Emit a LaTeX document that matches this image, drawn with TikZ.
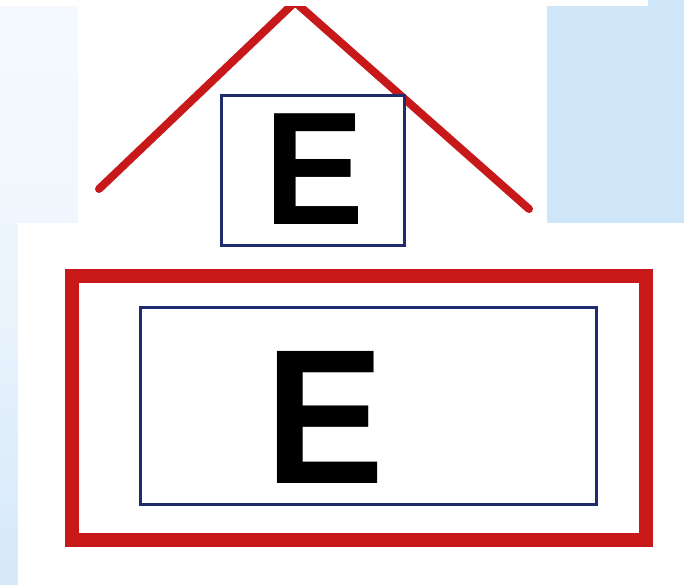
\documentclass[tikz,border=0pt]{standalone}
\usepackage{fontspec}
\setmainfont{Liberation Sans}
\definecolor{roofred}{HTML}{C8191A}
\definecolor{navy}{HTML}{1F2D6E}
\definecolor{paleblue}{HTML}{EEF6FD}
\definecolor{skyblue}{HTML}{CFE5F8}
\begin{document}
\begin{tikzpicture}[x=1pt,y=-1pt,
  redline/.style={draw=roofred,line width=8pt,line cap=round},
  redframe/.style={draw=roofred,line width=14pt,fill=white},
  bluebox/.style={draw=navy,line width=3pt,fill=white,inner sep=0pt},
  letter/.style={font=\bfseries,inner sep=0pt,anchor=base,text=black,xscale=0.93}]
\useasboundingbox (0,0) rectangle (684,585);
% background panels
\fill[left color=paleblue,right color=skyblue!60!paleblue] (0,0) rectangle (684,585);
\fill[top color=paleblue!60!white,bottom color=paleblue] (0,0) rectangle (80,240);
\fill[top color=paleblue,bottom color=skyblue!80!paleblue] (0,240) rectangle (18,585);
\fill[skyblue] (547,0) rectangle (684,223);
\fill[white] (78,6) rectangle (547,223);
\fill[white] (18,223) rectangle (684,585);
% roof
\coordinate (rl) at (99,189);
\coordinate (apex) at (295,2);
\coordinate (rr) at (529,209);
\draw[redline,line join=miter] (rl) -- (apex) -- (rr);
% top band
\fill[white] (0,0) rectangle (648,6);
\fill[skyblue] (648,0) rectangle (684,6);
% small box with E
\node[bluebox,minimum width=183pt,minimum height=150pt] (smallbox) at (312.5,170.5) {};
\node[letter] (smallE) at (314,224) {\fontsize{161}{161}\selectfont E};
% big frame
\node[redframe,minimum width=574pt,minimum height=264pt,inner sep=0pt] (frame) at (359,408) {};
\node[bluebox,minimum width=456pt,minimum height=197pt] (bigbox) at (368,405.5) {};
\node[letter] (bigE) at (325.5,483.5) {\fontsize{192}{192}\selectfont E};
\end{tikzpicture}
\end{document}
